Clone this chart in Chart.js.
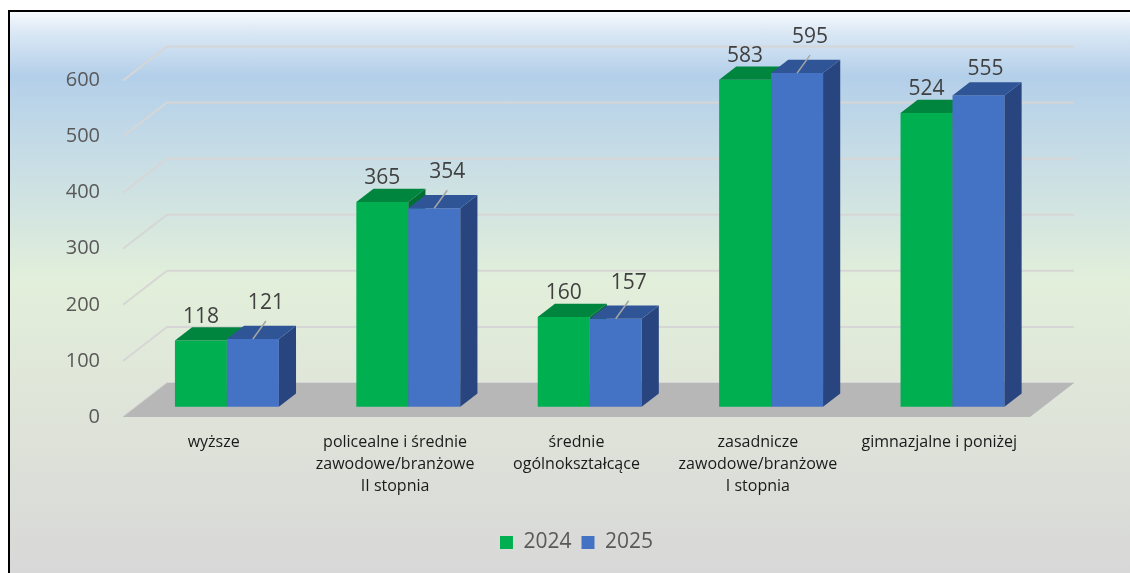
<!DOCTYPE html>
<html>
<head>
<meta charset="utf-8">
<script src="https://cdn.jsdelivr.net/npm/chart.js@4.4.1/dist/chart.umd.min.js"></script>
<style>
  html, body { margin: 0; padding: 0; background: #fff; overflow: hidden; }
  body { width: 1130px; height: 573px; position: relative; }
  #frame {
    position: absolute; left: 8px; top: 10px; right: -20px; bottom: -20px;
    border-left: 2px solid #000; border-top: 2px solid #000;
    background: linear-gradient(to bottom,
      #f6f9fd 0px, #dbe8f5 20px, #b3cfe9 64px, #c6dce6 140px,
      #e2efda 270px, #dfe4d9 400px, #d8d8d8 560px);
  }
  #wrap { position: absolute; left: 0; top: 0; width: 1130px; height: 573px; }
</style>
</head>
<body>
<div id="frame"></div>
<div id="wrap"><canvas id="chart"></canvas></div>
<script>
const CATEGORIES = [
  ['wyższe'],
  ['policealne i średnie', 'zawodowe/branżowe', 'II stopnia'],
  ['średnie', 'ogólnokształcące'],
  ['zasadnicze', 'zawodowe/branżowe', 'I stopnia'],
  ['gimnazjalne i poniżej']
];
const SERIES = ['2024', '2025'];
const VALUES_2024 = [118, 365, 160, 583, 524];
const VALUES_2025 = [121, 354, 157, 595, 555];
const Y_MAX = 600;
const Y_STEP = 100;

const FONT = '"Open Sans", sans-serif';

// oblique 3D: offset of the back wall against the front plane
const DEPTH = { x: 44, y: -34 };
const BAR_FRONT = 0.3;  // bar front faces sit this far back
const BAR_DEPTH = 0.39; // bar thickness as a share of the depth

const box3d = {
  id: 'box3d',
  beforeDatasetsDraw(chart) {
    const { ctx, chartArea: a, scales: { y } } = chart;
    ctx.save();
    ctx.strokeStyle = '#d6d6d6';
    ctx.lineWidth = 2;
    for (let v = 0; v <= Y_MAX; v += Y_STEP) {
      const py = y.getPixelForValue(v);
      ctx.beginPath();
      ctx.moveTo(a.left, py);
      ctx.lineTo(a.left + DEPTH.x, py + DEPTH.y);
      ctx.lineTo(a.right + DEPTH.x, py + DEPTH.y);
      ctx.stroke();
    }
    const p0 = y.getPixelForValue(0);
    ctx.fillStyle = '#b7b7b7';
    ctx.beginPath();
    ctx.moveTo(a.left, p0);
    ctx.lineTo(a.right, p0);
    ctx.lineTo(a.right + DEPTH.x, p0 + DEPTH.y);
    ctx.lineTo(a.left + DEPTH.x, p0 + DEPTH.y);
    ctx.closePath();
    ctx.fill();
    ctx.restore();
  },
  beforeDatasetDraw(chart, args) {
    // the second series is drawn right after the first one, see below
    if (args.index === 1) return false;
    chart.ctx.save();
    chart.ctx.translate(DEPTH.x * BAR_FRONT, DEPTH.y * BAR_FRONT);
  },
  afterDatasetDraw(chart) {
    const ctx = chart.ctx;
    drawFaces(chart, 0);
    const blue = chart.getDatasetMeta(1);
    if (!blue.hidden) {
      blue.controller.draw();
      drawFaces(chart, 1);
    }
    ctx.restore();
  },
  afterDatasetsDraw(chart) {
    const ctx = chart.ctx;
    const green = chart.getDatasetMeta(0).data;
    const blue = chart.getDatasetMeta(1).data;
    ctx.save();
    ctx.translate(DEPTH.x * BAR_FRONT, DEPTH.y * BAR_FRONT);
    ctx.font = '21px ' + FONT;
    ctx.fillStyle = '#404040';
    ctx.textAlign = 'center';
    ctx.textBaseline = 'middle';
    green.forEach((g, i) => {
      ctx.fillText(String(chart.data.datasets[0].data[i]), g.x, g.y - 24);
      const b = blue[i];
      let lx = b.x + 7;
      let ly = b.y - 27;
      if (Math.abs(b.y - g.y) < 12) {
        // too close to the neighbour: lift the label and add a leader line
        lx = b.x + 13;
        ly = b.y - 36;
        ctx.strokeStyle = '#a6a6a6';
        ctx.lineWidth = 1.5;
        ctx.beginPath();
        ctx.moveTo(b.x, b.y);
        ctx.lineTo(lx, ly + 18);
        ctx.stroke();
      }
      ctx.fillText(String(chart.data.datasets[1].data[i]), lx, ly);
    });
    ctx.restore();
  }
};

function drawFaces(chart, index) {
  const ctx = chart.ctx;
  const ds = chart.data.datasets[index];
  const dx = DEPTH.x * BAR_DEPTH;
  const dy = DEPTH.y * BAR_DEPTH;
  chart.getDatasetMeta(index).data.forEach(bar => {
    const { x, y, base, width } = bar.getProps(['x', 'y', 'base', 'width'], true);
    const l = x - width / 2;
    const r = x + width / 2;
    ctx.fillStyle = ds.sideColor;
    ctx.beginPath();
    ctx.moveTo(r, y);
    ctx.lineTo(r + dx, y + dy);
    ctx.lineTo(r + dx, base + dy);
    ctx.lineTo(r, base);
    ctx.closePath();
    ctx.fill();
    ctx.fillStyle = ds.topColor;
    ctx.beginPath();
    ctx.moveTo(l, y);
    ctx.lineTo(r, y);
    ctx.lineTo(r + dx, y + dy);
    ctx.lineTo(l + dx, y + dy);
    ctx.closePath();
    ctx.fill();
  });
}

new Chart(document.getElementById('chart'), {
  type: 'bar',
  data: {
    labels: CATEGORIES,
    datasets: [
      {
        label: SERIES[0],
        data: VALUES_2024,
        backgroundColor: '#00b050',
        topColor: '#00853e',
        sideColor: '#006f33'
      },
      {
        label: SERIES[1],
        data: VALUES_2025,
        backgroundColor: '#4472c4',
        topColor: '#2f5597',
        sideColor: '#284580'
      }
    ]
  },
  options: {
    responsive: true,
    maintainAspectRatio: false,
    animation: false,
    clip: false,
    categoryPercentage: 0.573,
    barPercentage: 1,
    borderWidth: 0,
    layout: { padding: { left: 65, right: 100, top: 80.5, bottom: 10 } },
    scales: {
      x: {
        grid: { display: false, drawTicks: false },
        border: { display: false },
        ticks: {
          autoSkip: false,
          maxRotation: 0,
          minRotation: 0,
          padding: 14,
          color: '#1a1a1a',
          font: { family: FONT, size: 16, lineHeight: 1.375 }
        },
        afterFit: s => { s.height = 105; }
      },
      y: {
        min: 0,
        max: Y_MAX,
        grid: { display: false, drawTicks: false },
        border: { display: false },
        ticks: {
          stepSize: Y_STEP,
          padding: 23,
          color: '#595959',
          font: { family: FONT, size: 20 }
        },
        afterFit: s => { s.width = 58; }
      }
    },
    plugins: {
      legend: {
        position: 'bottom',
        fullSize: false,
        labels: {
          boxWidth: 13,
          boxHeight: 13,
          padding: 10,
          color: '#595959',
          font: { family: FONT, size: 21 }
        }
      },
      tooltip: { enabled: false }
    }
  },
  plugins: [box3d]
});
</script>
</body>
</html>
